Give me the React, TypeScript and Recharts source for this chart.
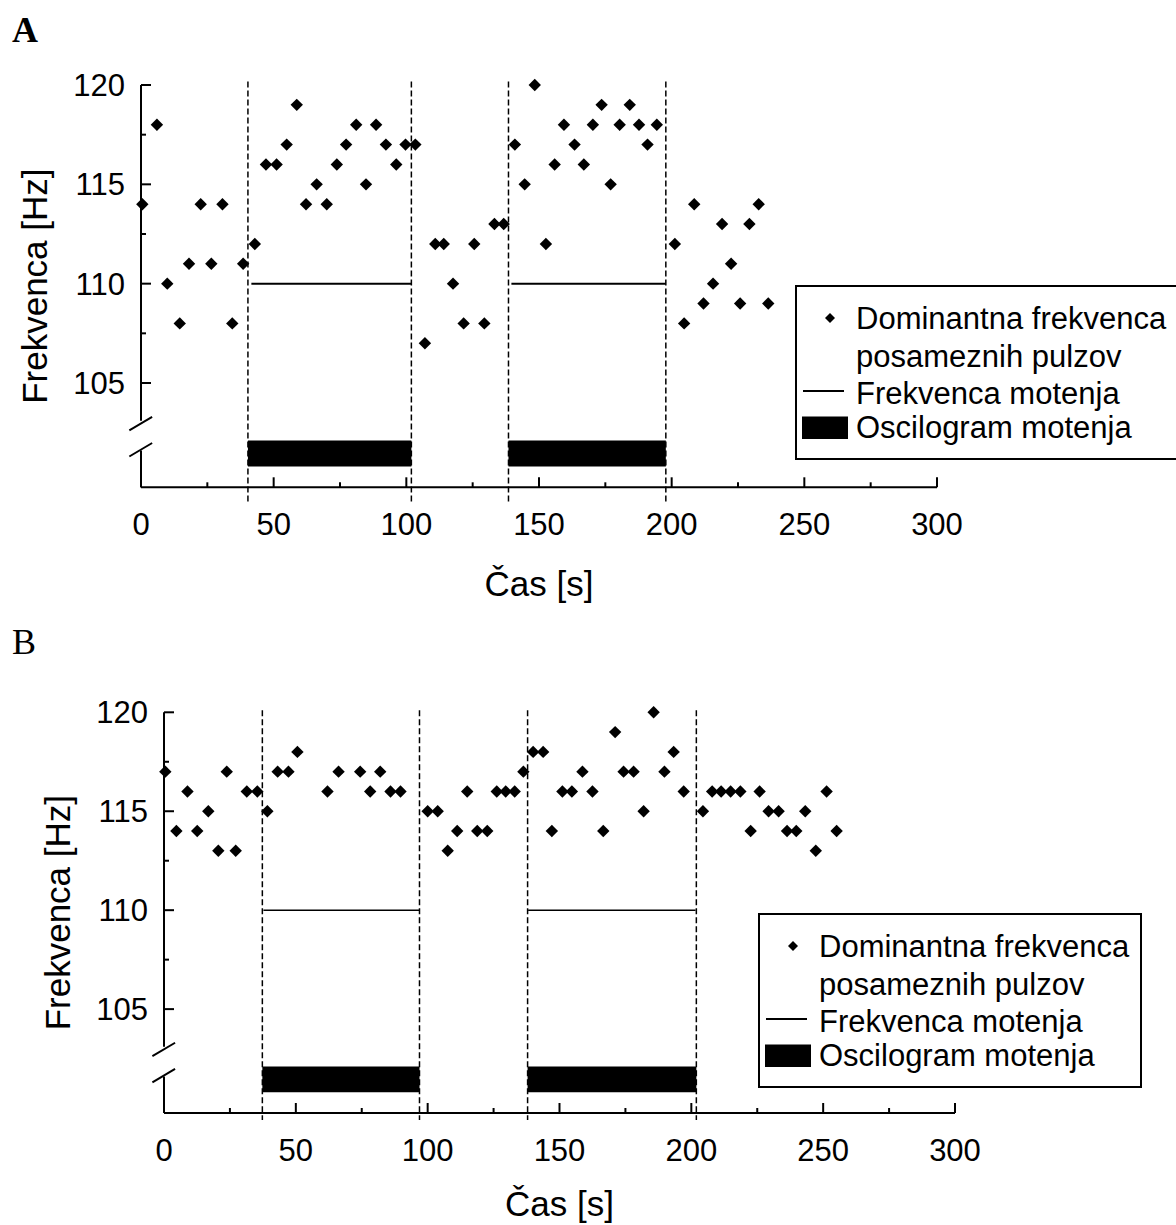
import React from 'react'
import {
  ComposedChart, Scatter, XAxis, YAxis, ReferenceLine, ReferenceArea, Legend,
} from 'recharts'

// Panel A – dominant frequency of single pulses, time [s] / frequency [Hz]
const A_TIME = [
  0.5, 6, 9.9, 14.6, 18.1, 22.5, 26.5, 30.7, 34.4, 38.5,
  42.9, 47.1, 51.1, 54.9, 58.7, 62.2, 66.2, 70, 73.8, 77.3,
  81.1, 84.8, 88.6, 92.3, 96.2, 99.7, 103.4, 107, 110.9, 114.1,
  117.6, 121.6, 125.6, 129.4, 133.2, 136.7, 140.9, 144.6, 148.4, 152.6,
  155.9, 159.4, 163.4, 166.9, 170.3, 173.6, 177, 180.4, 184.2, 187.7,
  190.9, 194.4, 201.2, 204.7, 208.5, 212, 215.6, 219, 222.4, 225.8,
  229.3, 232.8, 236.4,
]
const A_FREQ = [
  114, 118, 110, 108, 111, 114, 111, 114, 108, 111,
  112, 116, 116, 117, 119, 114, 115, 114, 116, 117,
  118, 115, 118, 117, 116, 117, 117, 107, 112, 112,
  110, 108, 112, 108, 113, 113, 117, 115, 120, 112,
  116, 118, 117, 116, 118, 119, 115, 118, 119, 118,
  117, 118, 112, 108, 114, 109, 110, 113, 111, 109,
  113, 114, 109,
]
// disturbance intervals (start, end) [s] and its frequency [Hz]
const A_DISTURB = [[40.3, 101.9], [138.5, 197.8]]
const A_DISTURB_LINE = [[41.6, 101.8], [139.6, 197.8]]

// Panel B
const B_TIME = [
  0.5, 4.7, 8.9, 12.6, 16.8, 20.6, 23.8, 27.2, 31.4, 35.4,
  39.2, 43.1, 47.2, 50.6, 62, 66.2, 74.4, 78.2, 82, 85.9,
  89.7, 100, 103.8, 107.6, 111.2, 115, 118.8, 122.6, 126.2, 129.6,
  133, 136.3, 140, 143.8, 147.1, 151.1, 154.7, 158.7, 162.5, 166.6,
  171.1, 174.3, 178.1, 181.9, 185.7, 189.8, 193.3, 197.1, 204.4, 207.9,
  211.3, 214.9, 218.6, 222.5, 225.9, 229.3, 233.1, 236.3, 239.8, 243.2,
  247.2, 251.3, 255.1,
]
const B_FREQ = [
  117, 114, 116, 114, 115, 113, 117, 113, 116, 116,
  115, 117, 117, 118, 116, 117, 117, 116, 117, 116,
  116, 115, 115, 113, 114, 116, 114, 114, 116, 116,
  116, 117, 118, 118, 114, 116, 116, 117, 116, 114,
  119, 117, 117, 115, 120, 117, 118, 116, 115, 116,
  116, 116, 116, 114, 116, 115, 115, 114, 114, 115,
  113, 116, 114,
]
const B_DISTURB = [[37.3, 96.9], [137.9, 201.9]]
const B_DISTURB_LINE = [[37.7, 96.9], [138.1, 201.6]]

const DISTURB_FREQ = 110
const X_TICKS = [0, 25, 50, 75, 100, 125, 150, 175, 200, 225, 250, 275, 300]
const Y_TICKS = [105, 107.5, 110, 112.5, 115, 117.5, 120]
const LEGEND_LABELS = ['Dominantna frekvenca', 'posameznih pulzov', 'Frekvenca motenja', 'Oscilogram motenja']

// layout
const W = 1176
const Y_AXIS_W = 133
const X_AXIS_H = 100
const Y_DOMAIN = [99.75, 120]
const BAR_BAND = [100.8, 102.1] // bar sits below the axis break
const FONT = '"Liberation Sans", Arial, sans-serif'

const PANELS = [
  {
    letter: 'A', bold: true, chartTop: 0, height: 612,
    left: 141, right: 937, top: 85, bottom: 487.3,
    legendX: 795, legendY: 285, titleDy: 109,
    dashTop: 120.17, dashBottom: 99.03, lineW: 2,
    time: A_TIME, freq: A_FREQ, disturb: A_DISTURB, line: A_DISTURB_LINE,
  },
  {
    letter: 'B', bold: false, chartTop: 612, height: 613,
    left: 164, right: 955, top: 100.3, bottom: 501,
    legendX: 758.3, legendY: 301.3, titleDy: 103,
    dashTop: 120.1, dashBottom: 99.4, lineW: 1.5,
    time: B_TIME, freq: B_FREQ, disturb: B_DISTURB, line: B_DISTURB_LINE,
  },
]

function Diamond(props: any) {
  const { cx, cy } = props
  const r = 6.2
  return <path d={`M${cx},${cy - r}L${cx + r},${cy}L${cx},${cy + r}L${cx - r},${cy}Z`} fill="#000" />
}

function XTick(props: any) {
  const { x, y, payload } = props
  const major = payload.value % 50 === 0
  return (
    <g>
      <line x1={x} x2={x} y1={y} y2={y - (major ? 10 : 5)} stroke="#000" strokeWidth={2} />
      {major && (
        <text x={x} y={y + 48} textAnchor="middle" fontSize={31} fontFamily={FONT} fill="#000">
          {payload.value}
        </text>
      )}
    </g>
  )
}

function YTick(props: any) {
  const { x, y, payload } = props
  const major = payload.value % 5 === 0
  return (
    <g>
      <line x1={x} x2={x + (major ? 10 : 5)} y1={y} y2={y} stroke="#000" strokeWidth={2} />
      {major && (
        <text x={x - 16} y={y + 11} textAnchor="end" fontSize={31} fontFamily={FONT} fill="#000">
          {payload.value}
        </text>
      )}
    </g>
  )
}

function LegendBox() {
  const txt = { fontSize: 31, fontFamily: FONT, fill: '#000' }
  return (
    <svg width={384} height={175} style={{ display: 'block' }}>
      <rect x={1} y={1} width={382} height={173} fill="#fff" stroke="#000" strokeWidth={2} />
      <path d="M35,28L40,33L35,38L30,33Z" fill="#000" />
      <text x={61} y={44} {...txt}>{LEGEND_LABELS[0]}</text>
      <text x={61} y={82} {...txt}>{LEGEND_LABELS[1]}</text>
      <line x1={8} x2={49} y1={106} y2={106} stroke="#000" strokeWidth={2} />
      <text x={61} y={119} {...txt}>{LEGEND_LABELS[2]}</text>
      <rect x={7} y={131.5} width={46} height={22.5} fill="#000" />
      <text x={61} y={153} {...txt}>{LEGEND_LABELS[3]}</text>
    </svg>
  )
}

function Panel({ p }: { p: typeof PANELS[number] }) {
  const data = p.time.map((t, i) => ({ t, f: p.freq[i] }))
  const dashes = p.disturb.flat()

  const yTitle = (lp: any) => {
    const vb = lp.viewBox || { x: p.left - Y_AXIS_W, y: p.top, height: p.bottom - p.top }
    const cx = vb.x + 27
    const cy = vb.y + vb.height / 2
    return (
      <text x={cx} y={cy} transform={`rotate(-90 ${cx} ${cy})`} textAnchor="middle"
        dominantBaseline="central" fontSize={35} fontFamily={FONT} fill="#000">
        Frekvenca [Hz]
      </text>
    )
  }
  const xTitle = (lp: any) => {
    const vb = lp.viewBox || { x: p.left, y: p.bottom, width: p.right - p.left }
    return (
      <text x={vb.x + vb.width / 2} y={vb.y + p.titleDy} textAnchor="middle"
        fontSize={35} fontFamily={FONT} fill="#000">
        Čas [s]
      </text>
    )
  }

  return (
    <div style={{ position: 'absolute', left: 0, top: p.chartTop, width: W, height: p.height }}>
      <svg width={60} height={60} style={{ position: 'absolute', left: 0, top: 0 }}>
        <text x={12} y={42} fontSize={36} fontWeight={p.bold ? 'bold' : 'normal'}
          fontFamily='"Liberation Serif", "Times New Roman", serif' fill="#000">
          {p.letter}
        </text>
      </svg>
      <ComposedChart
        width={W}
        height={p.height}
        margin={{
          top: p.top,
          right: W - p.right,
          bottom: p.height - p.bottom - X_AXIS_H,
          left: p.left - Y_AXIS_W,
        }}
      >
        <XAxis
          type="number" dataKey="t" domain={[0, 300]} ticks={X_TICKS} interval={0}
          height={X_AXIS_H} tickSize={0} tickMargin={0} tickLine={false}
          axisLine={{ stroke: '#000', strokeWidth: 2 }}
          tick={(tp: any) => <XTick {...tp} />}
          label={xTitle}
        />
        <YAxis
          type="number" dataKey="f" domain={Y_DOMAIN} ticks={Y_TICKS} interval={0}
          width={Y_AXIS_W} tickSize={0} tickMargin={0} tickLine={false} axisLine={false}
          tick={(tp: any) => <YTick {...tp} />}
          label={yTitle}
        />

        {/* broken y axis */}
        <ReferenceLine segment={[{ x: 0, y: 120 }, { x: 0, y: 103.1 }]} stroke="#000" strokeWidth={2} ifOverflow="visible" />
        <ReferenceLine segment={[{ x: 0, y: 101.6 }, { x: 0, y: Y_DOMAIN[0] }]} stroke="#000" strokeWidth={2} ifOverflow="visible" />
        <ReferenceLine segment={[{ x: -4.4, y: 102.62 }, { x: 4.2, y: 103.3 }]} stroke="#000" strokeWidth={2} ifOverflow="visible" />
        <ReferenceLine segment={[{ x: -4.4, y: 101.3 }, { x: 4.2, y: 101.98 }]} stroke="#000" strokeWidth={2} ifOverflow="visible" />

        {/* oscilogram bars */}
        {p.disturb.map(([a, b], i) => (
          <ReferenceArea key={`bar${i}`} x1={a} x2={b} y1={BAR_BAND[0]} y2={BAR_BAND[1]}
            fill="#000" fillOpacity={1} stroke="none" />
        ))}

        {/* interval borders */}
        {dashes.map((x, i) => (
          <ReferenceLine key={`d${i}`} segment={[{ x, y: p.dashTop }, { x, y: p.dashBottom }]}
            stroke="#000" strokeWidth={1.5} strokeDasharray="6 3" ifOverflow="visible" />
        ))}

        {/* disturbance frequency */}
        {p.line.map(([a, b], i) => (
          <ReferenceLine key={`l${i}`} segment={[{ x: a, y: DISTURB_FREQ }, { x: b, y: DISTURB_FREQ }]}
            stroke="#000" strokeWidth={p.lineW} ifOverflow="visible" />
        ))}

        <Scatter data={data} isAnimationActive={false} shape={Diamond} />

        <Legend
          layout="vertical" align="center" verticalAlign="middle"
          wrapperStyle={{ left: p.legendX, top: p.legendY, width: 384, height: 175 }}
          content={() => <LegendBox />}
        />
      </ComposedChart>
    </div>
  )
}

export default function App() {
  return (
    <div style={{ position: 'absolute', left: 0, top: 0, width: W, height: 1225, overflow: 'hidden', background: '#fff' }}>
      {PANELS.map(p => <Panel key={p.letter} p={p} />)}
    </div>
  )
}
